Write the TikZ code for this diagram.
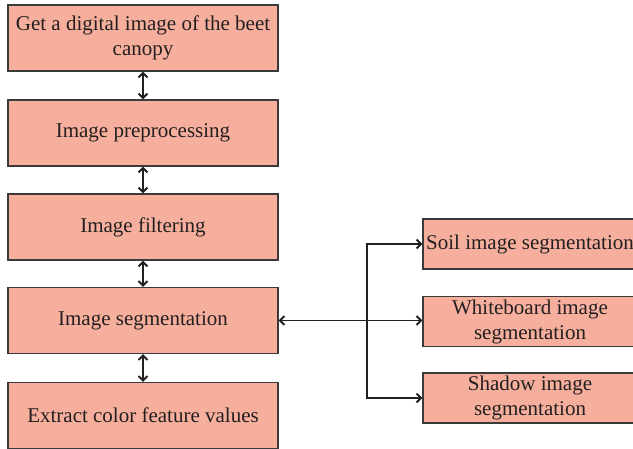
\documentclass[tikz,border=0pt]{standalone}
\usepackage{fontspec}
\setmainfont{Liberation Serif}
\usetikzlibrary{arrows.meta}
\definecolor{boxfill}{HTML}{F7AF9D}
\definecolor{boxline}{HTML}{3A3A3A}
\definecolor{inkc}{HTML}{231F20}
\tikzset{
  flowbox/.style={draw=boxline, line width=1.2pt, fill=boxfill, text=inkc, align=center,
    font=\fontsize{21}{25}\selectfont, inner sep=1pt},
  leftbox/.style={flowbox, minimum width=270pt, minimum height=66pt},
  rightbox/.style={flowbox, minimum width=214pt, minimum height=50pt},
  conn/.style={draw=inkc, line width=1.9pt, {Straight Barb[length=4.5pt,width=9pt]}-{Straight Barb[length=4.5pt,width=9pt]}},
  connr/.style={draw=inkc, line width=1.9pt, -{Straight Barb[length=4.5pt,width=9pt]}}
}
\begin{document}
\begin{tikzpicture}[x=1pt,y=-1pt]
\useasboundingbox (0,0) rectangle (633,449);
\clip (0,0) rectangle (633,449);
\fill[white] (0,0) rectangle (633,449);
\node[leftbox] (b1) at (143,38) {Get a digital image of the beet\\canopy};
\node[leftbox] (b2) at (143,133) {Image preprocessing};
\node[leftbox] (b3) at (143,227) {Image filtering};
\node[leftbox] (b4) at (143,320.5) {Image segmentation};
\node[leftbox] (b5) at (143,415.5) {Extract color feature values};
\node[rightbox] (s) at (530,244) {Soil image segmentation};
\node[rightbox] (w) at (530,321.5) {Whiteboard image\\segmentation};
\node[rightbox] (h) at (530,398) {Shadow image\\segmentation};
\draw[conn] (b1) -- (b2);
\draw[conn] (b2) -- (b3);
\draw[conn] (b3) -- (b4);
\draw[conn] (b4) -- (b5);
\draw[conn] (b4.east) -- (b4.east -| w.west);
\coordinate (j) at (367,321);
\draw[connr] (j) |- (s.west);
\draw[connr] (j) |- (h.west);
\end{tikzpicture}
\end{document}
